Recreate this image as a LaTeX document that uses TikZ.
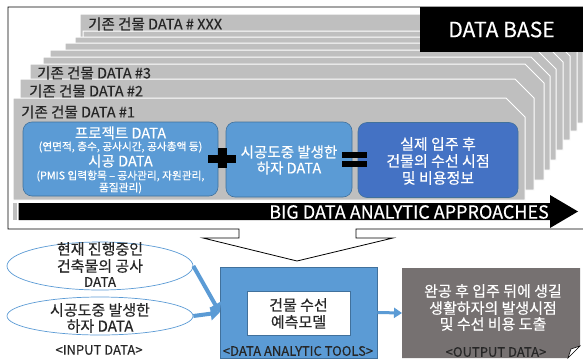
\documentclass[tikz,border=0pt]{standalone}
\usepackage{fontspec}
\setmainfont{Noto Sans CJK KR}[FakeBold=0.4]
\usetikzlibrary{shapes.geometric,arrows.meta}
\definecolor{plategray}{HTML}{BFBFBF}
\definecolor{lblue}{HTML}{5B9BD5}
\definecolor{dblue}{HTML}{4472C4}
\definecolor{edgeblue}{HTML}{41719C}
\definecolor{outgray}{HTML}{767171}
\definecolor{inktext}{HTML}{262626}

\newcommand{\fsz}[1]{\fontsize{#1}{#1}\selectfont}

\begin{document}
\begin{tikzpicture}[x=1pt,y=-1pt,
  plate/.style={fill=plategray, draw=white, line width=1pt},
  platelabel/.style={anchor=west, inner sep=0pt, text=inktext, font=\fsz{14.5}},
  card/.style={rounded corners=9pt, draw=edgeblue, line width=0.6pt, inner sep=0pt},
  wtext/.style={text=white, inner sep=0pt, align=center},
  btext/.style={text=inktext, inner sep=0pt, align=center},
  inell/.style={ellipse, draw=lblue, line width=0.7pt, inner sep=0pt},
  flow/.style={lblue, line width=4pt, -{Triangle[length=9pt,width=13pt]}},
  frameline/.style={black, line width=0.8pt}]

\useasboundingbox (0,0) rectangle (583,362);
\fill[white] (0,0) rectangle (583,362);

% stacked building records, drawn from the back to the front
\foreach \l/\t/\r/\bt in {80/14/583/123, 83/31/577/131, 75/37/570/140,
    65/43/563/150, 50/50/556/160, 43/57/550/170, 30/64/544/180,
    20/79/534/190, 13/98/525/200}{
  \path[plate] (\l,\t) -- ({\r-19},\t) -- (\r,{\t+19}) -- (\r,\bt) -- (\l,\bt) -- cycle;
}
\node[platelabel] (lxxx) at (88,24) {기존 건물 DATA \# XXX};
\node[platelabel] (l3) at (37,73) {기존 건물 DATA \#3};
\node[platelabel] (l2) at (29,91) {기존 건물 DATA \#2};
\node[platelabel] (l1) at (21,112) {기존 건물 DATA \#1};

% database tag
\node[fill=black, text=white, minimum width=163pt, minimum height=45pt, inner sep=0pt,
  font=\fsz{21}] (db) at (501.5,29.5) {DATA BASE};

% outer callout frame
\draw[frameline] (583,7) -- (8,7) -- (8,229) -- (239,229) -- (239,238) -- (203,238)
  -- (297,261) -- (393,238) -- (356,238) -- (356,229) -- (583,229);

% big data arrow
\fill[plategray] (13,203) rectangle (17,220);
\fill[black] (18.5,203) -- (550,203) -- (550,195) -- (578,211.5) -- (550,228)
  -- (550,220) -- (18.5,220) -- cycle;
\node[wtext, anchor=east, font=\fsz{18}] (bigtxt) at (549,212) {BIG DATA ANALYTIC APPROACHES};

% data cards
\node[card, fill=lblue, minimum width=195pt, minimum height=74pt] (b1) at (120.5,159) {};
\node[wtext, font=\fsz{14.5}] (b1a) at (120.5,133) {프로젝트 DATA};
\node[wtext, font=\fsz{10.7}] (b1b) at (120.5,147) {(연면적, 층수, 공사시간, 공사총액 등)};
\node[wtext, font=\fsz{14.5}] (b1c) at (120.5,161) {시공 DATA};
\node[wtext, font=\fsz{10.7}] (b1d) at (120.5,176) {(PMIS 입력항목 – 공사관리, 자원관리,};
\node[wtext, font=\fsz{10.7}] (b1e) at (120.5,188) {품질관리)};

\node[card, fill=lblue, minimum width=126pt, minimum height=75pt] (b2) at (289,159.5) {};
\node[wtext, font=\fsz{14.5}] (b2a) at (289,152) {시공도중 발생한};
\node[wtext, font=\fsz{14.5}] (b2b) at (289,168) {하자 DATA};

\node[card, fill=dblue, minimum width=160pt, minimum height=75pt] (b3) at (438,160) {};
\node[wtext, font=\fsz{15}] (b3a) at (438,144) {실제 입주 후};
\node[wtext, font=\fsz{15}] (b3b) at (438,161) {건물의 수선 시점};
\node[wtext, font=\fsz{15}] (b3c) at (438,178) {및 비용정보};

% plus and equals signs
\fill[black] (208,155) rectangle (236,163);
\fill[black] (218,148) rectangle (227,168);
\fill[black] (342,152) rectangle (367,158);
\fill[black] (342,160.5) rectangle (367,166.5);

% input data
\node[inell, minimum width=186pt, minimum height=48pt] (e1) at (100,266) {};
\node[btext, font=\fsz{15}] (e1a) at (100,249) {현재 진행중인};
\node[btext, font=\fsz{15}] (e1b) at (100,266) {건축물의 공사};
\node[btext, font=\fsz{13.5}] (e1c) at (100,282) {DATA};
\node[inell, minimum width=186pt, minimum height=38pt] (e2) at (100,316) {};
\node[btext, font=\fsz{15}] (e2a) at (100,310) {시공도중 발생한};
\node[btext, font=\fsz{15}] (e2b) at (100,326) {하자 DATA};
\node[btext, font=\fsz{13}] (inlbl) at (99,350) {<INPUT DATA>};

% analytic tool
\node[fill=lblue, draw=edgeblue, line width=0.6pt, minimum width=157pt, minimum height=91pt,
  inner sep=0pt] (tools) at (298.5,312.5) {};
\node[fill=white, draw=edgeblue, line width=0.4pt, minimum width=103pt, minimum height=44pt,
  inner sep=0pt] (model) at (298.5,313) {};
\node[btext, font=\fsz{15}] (mda) at (298.5,305) {건물 수선};
\node[btext, font=\fsz{15}] (mdb) at (298.5,322) {예측모델};
\node[btext, font=\fsz{13}] (toollbl) at (298,351) {<DATA ANALYTIC TOOLS>};

% output data with folded corner
\fill[outgray] (402,268) -- (580,268) -- (580,346) -- (568,358) -- (402,358) -- cycle;
\filldraw[fill=white, draw=black, line width=0.5pt] (568,358) -- (580,346) -- (571,349) -- cycle;
\coordinate (outw) at (402,313);
\node[wtext, font=\fsz{15}] (oa) at (493,291) {완공 후 입주 뒤에 생길};
\node[wtext, font=\fsz{15}] (ob) at (493,308) {생활하자의 발생시점};
\node[wtext, font=\fsz{15}] (oc) at (493,324) {및 수선 비용 도출};
\node[btext, font=\fsz{13}] (outlbl) at (496,352) {<OUTPUT DATA>};

% connectors
\draw[flow] (e1.east) -- (tools.west);
\draw[flow] (e2.east) -- (tools.west);
\draw[lblue, line width=3pt, -{Triangle[length=8pt,width=10pt]}] (tools.east) -- (outw);

\end{tikzpicture}
\end{document}
